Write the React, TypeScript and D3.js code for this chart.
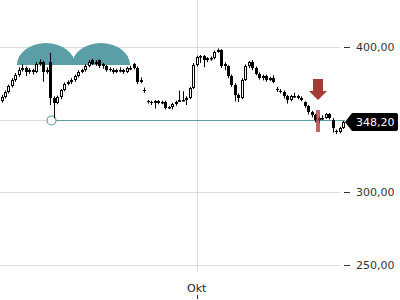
import React from "react";
import * as d3 from "d3";

const opens = [363.0,365.5,369.0,373.1,377.2,380.7,384.1,385.5,382.8,384.1,382.8,388.3,389.7,382.8,389.7,364.8,361.4,365.5,370.3,374.5,375.9,377.2,380.0,382.8,384.1,386.9,391.0,388.3,391.0,388.0,386.9,385.0,384.1,382.8,384.1,384.1,382.8,385.5,388.0,385.5,375.9,370.5,363.0,362.1,361.4,362.8,362.1,362.1,357.9,358.6,360.7,362.1,363.4,363.4,364.8,371.7,387.6,393.1,393.8,391.0,391.5,392.4,396.6,397.9,388.0,386.9,380.0,373.8,366.9,364.8,377.2,386.9,389.7,385.5,381.4,378.6,380.0,377.2,378.6,371.0,369.5,369.0,366.2,363.4,366.2,366.2,364.8,362.0,359.3,355.2,353.1,349.7,351.0,351.0,353.8,350.0,342.0,341.4,344.1];
const closes = [365.5,369.0,373.1,377.2,380.7,384.1,385.5,382.8,384.1,382.8,388.3,389.7,382.8,384.1,364.8,361.4,365.5,370.3,374.5,375.9,377.2,380.0,382.8,384.1,386.9,389.7,388.3,389.7,386.9,386.9,384.1,384.1,382.8,384.1,384.1,382.8,385.5,385.5,385.5,375.9,377.2,370.3,362.1,361.4,362.8,361.4,362.1,357.9,358.6,360.7,362.1,363.4,363.4,364.8,371.7,387.6,393.1,393.8,391.0,392.4,392.4,396.6,397.9,386.9,386.9,380.0,373.8,366.9,364.8,377.2,386.9,389.7,385.5,381.4,378.6,380.0,377.2,378.6,375.9,370.3,369.0,366.2,363.4,366.2,366.2,364.8,363.4,359.3,355.2,353.1,349.7,351.0,351.0,353.8,351.0,344.1,341.4,344.1,348.2];
const highs = [367.0,370.0,374.0,378.5,382.0,386.0,388.0,386.5,385.5,385.0,389.5,391.5,390.5,386.0,396.0,366.0,366.5,371.0,375.5,377.0,378.5,381.0,384.0,385.0,388.0,391.0,392.0,391.0,391.5,389.0,387.5,386.0,385.5,385.0,386.0,385.0,386.5,387.0,389.0,386.5,379.0,372.0,363.5,363.0,363.5,363.5,363.0,363.0,359.5,361.5,363.0,370.0,369.5,366.0,372.5,389.0,394.0,394.5,394.5,393.0,393.5,397.5,399.0,398.5,389.5,387.5,381.0,375.0,368.0,378.5,388.0,390.5,391.0,386.5,382.5,381.0,381.0,379.5,380.5,372.5,371.0,370.0,367.0,367.0,368.5,367.0,366.0,362.5,360.0,356.0,354.0,352.0,353.0,354.5,354.5,351.0,343.0,345.0,349.0];
const lows = [361.5,364.5,368.0,372.0,376.0,379.5,383.0,380.0,381.5,381.0,382.0,387.0,376.0,381.5,360.0,350.8,360.5,364.0,369.5,373.5,374.5,376.0,379.0,382.0,383.0,386.0,387.5,387.0,385.5,385.0,383.0,383.0,381.5,382.0,382.5,381.5,382.0,384.0,384.5,374.5,375.0,368.5,361.0,360.0,357.5,360.5,360.5,357.0,357.5,357.0,359.5,362.0,362.5,360.0,364.0,371.0,386.5,389.0,386.0,389.5,390.5,391.5,396.0,385.5,384.0,378.5,372.5,362.5,362.0,364.0,376.5,385.5,384.0,380.5,377.5,377.0,376.0,376.5,375.0,369.0,368.0,364.5,361.0,362.5,365.0,364.0,362.5,358.0,353.5,351.5,348.0,347.5,349.5,350.5,350.0,341.0,340.0,340.5,343.5];

const priceTicks = [250, 300, 400];
const lastPrice = 348.2;
const lastLabel = "348,20";
const lowLevel = 350;
const lowIndex = 14.3;
const monthTicks = [{ index: 56, label: "Okt" }];
const arrowIndex = 90.7;

const W = 400, H = 300;
const teal = "#5b9ea6";

export default function App() {
  const x = d3.scaleLinear().domain([0, closes.length - 1]).range([1.5, 343]);
  const y = d3.scaleLinear().domain([250, 400]).range([264.5, 47]);
  const fmt = (v: number) => d3.format(".2f")(v).replace(".", ",");
  const px = (v: number) => Math.round(v) + 0.5;
  const yLow = px(y(lowLevel));
  const cxLow = Math.round(x(lowIndex)) + 0.5;
  const yLast = y(lastPrice);
  const ax = Math.round(x(arrowIndex));

  return (
    <svg width={W} height={H} style={{ position: "absolute", left: 0, top: 0, fontFamily: "DejaVu Sans" }}>
      <rect width={W} height={H} fill="#fff" />
      {priceTicks.map((t) => (
        <g key={t}>
          <line x1={0} x2={340} y1={px(y(t))} y2={px(y(t))} stroke="#dcdcdc" />
          <line x1={344} x2={350} y1={px(y(t))} y2={px(y(t))} stroke="#333" />
          <text x={356} y={y(t) + 4} fontSize={11} fill="#333">{fmt(t)}</text>
        </g>
      ))}
      <line x1={0} x2={cxLow - 5} y1={yLow} y2={yLow} stroke="#dcdcdc" />
      {monthTicks.map((m) => (
        <g key={m.label}>
          <line x1={px(x(m.index))} x2={px(x(m.index))} y1={0} y2={272} stroke="#dcdcdc" />
          <text x={x(m.index)} y={292} fontSize={11} fill="#222" textAnchor="middle">{m.label}</text>
          <line x1={px(x(m.index))} x2={px(x(m.index))} y1={295} y2={299} stroke="#333" />
        </g>
      ))}
      <path d="M17,65 A29,22 0 0 1 75,65 Z" fill={teal} />
      <path d="M72,65 A29,22 0 0 1 130,65 Z" fill={teal} />
      <line x1={cxLow + 4.5} x2={345} y1={yLow} y2={yLow} stroke={teal} />
      <circle cx={cxLow} cy={yLow} r={4.5} fill="none" stroke={teal} strokeWidth={1.2} />
      {closes.map((c, i) => {
        const o = opens[i];
        const cx = Math.round(x(i)) + 0.5;
        const up = c >= o;
        const top = Math.round(y(Math.max(o, c)));
        const bot = Math.round(y(Math.min(o, c)));
        const hgt = Math.max(bot - top, 1);
        return (
          <g key={i}>
            <line x1={cx} x2={cx} y1={y(highs[i])} y2={y(lows[i])} stroke="#000" />
            {up ? (
              <rect x={cx - 1} y={top + 0.5} width={2} height={Math.max(hgt - 1, 0.5)} fill="#fff" stroke="#000" />
            ) : (
              <rect x={cx - 1.5} y={top} width={3} height={hgt} fill="#000" />
            )}
          </g>
        );
      })}
      <rect x={ax - 2} y={110} width={4} height={22} fill="rgba(165,55,50,0.75)" />
      <path d={`M${ax - 5},79 H${ax + 5} V91 H${ax + 9} L${ax},100 L${ax - 9},91 H${ax - 5} Z`} fill="#a53a35" />
      <path d={`M345,${yLast} L352,${yLast - 9} H396 Q398,${yLast - 9} 398,${yLast - 7} V${yLast + 7} Q398,${yLast + 9} 396,${yLast + 9} H352 Z`} fill="#000" />
      <text x={356} y={yLast + 4} fontSize={11} fill="#fff">{lastLabel}</text>
    </svg>
  );
}
